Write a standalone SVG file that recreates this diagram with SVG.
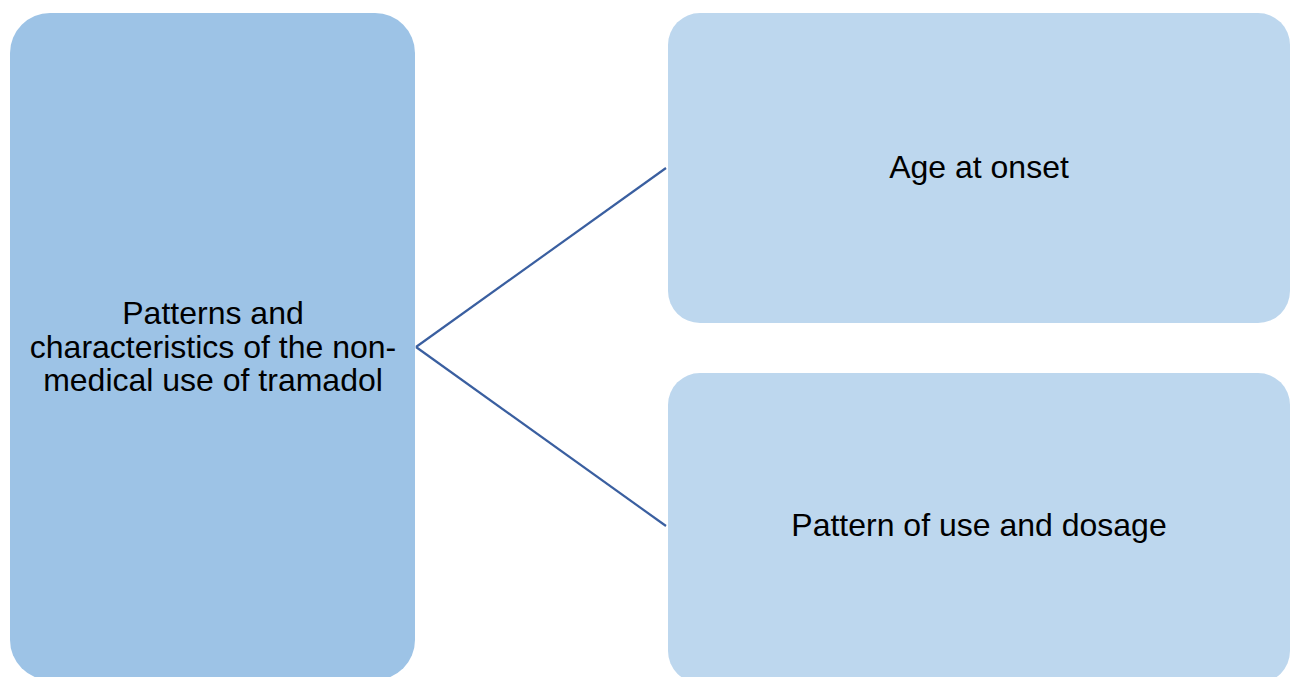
<svg xmlns="http://www.w3.org/2000/svg" width="1296" height="677" viewBox="0 0 1296 677">
<style>
.main{fill:#9DC3E6}
.sub{fill:#BDD7EE}
.t{font-family:"Liberation Sans",Arial,sans-serif;font-size:32px;fill:#000;text-anchor:middle}
.c{stroke:#3A5FA0;stroke-width:2.2;fill:none}
</style>
<rect width="1296" height="677" fill="#fff"/>
<g id="connectors">
<line class="c" x1="416" y1="347" x2="666" y2="168"/>
<line class="c" x1="416" y1="347" x2="666" y2="526"/>
</g>
<g id="node-main">
<rect class="main" x="10" y="13" width="405" height="667" rx="40"/>
<text class="t" x="213" y="324">Patterns and</text>
<text class="t" x="213" y="358">characteristics of the non-</text>
<text class="t" x="213" y="391">medical use of tramadol</text>
</g>
<g id="node-age">
<rect class="sub" x="668" y="13" width="622" height="310" rx="32"/>
<text class="t" x="979" y="178">Age at onset</text>
</g>
<g id="node-pattern">
<rect class="sub" x="668" y="373" width="622" height="310" rx="32"/>
<text class="t" x="979" y="536">Pattern of use and dosage</text>
</g>
</svg>
